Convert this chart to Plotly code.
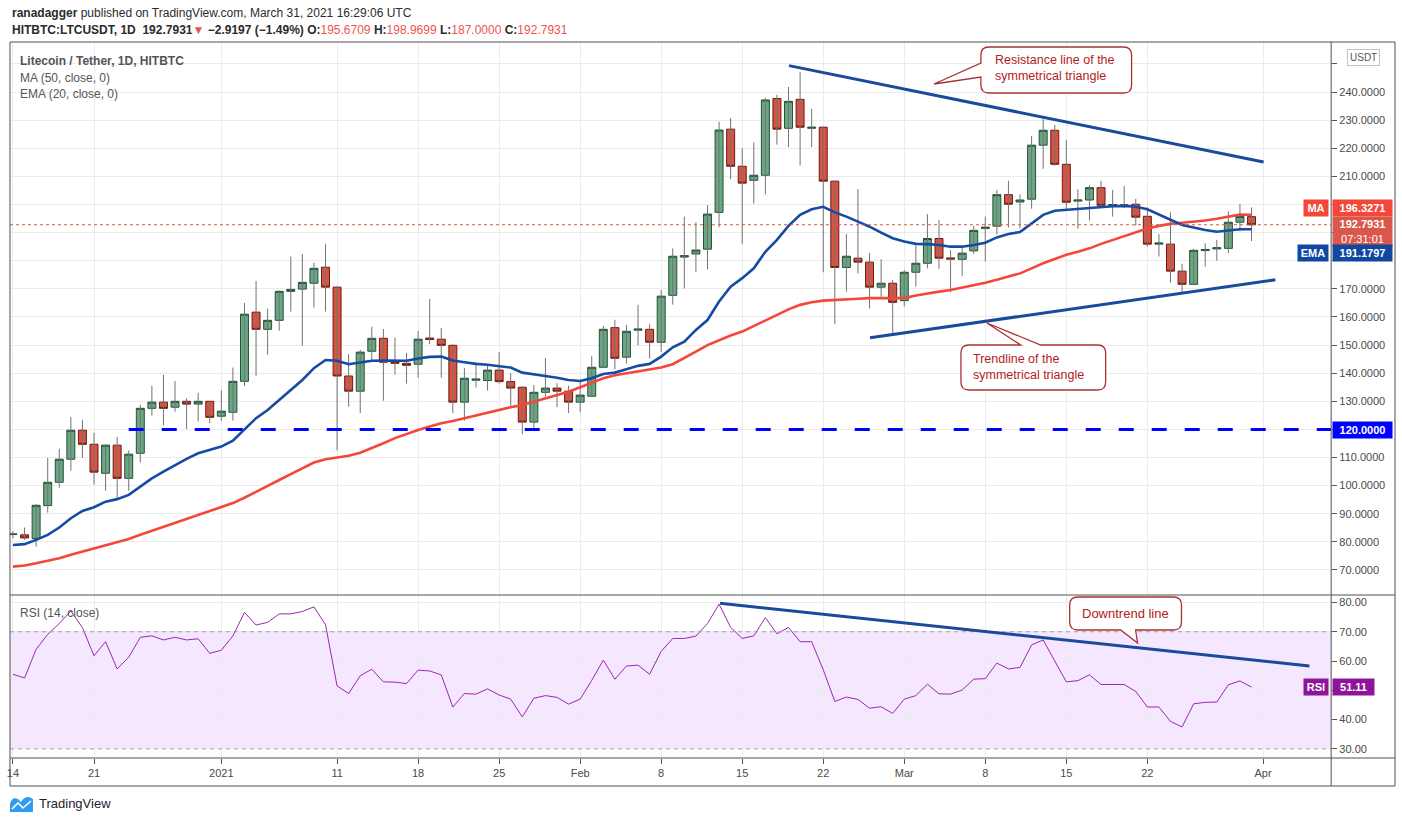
import re
import pandas as pd
import plotly.graph_objects as go

W, H = 1402, 823

# ---- data (LTC/USDT daily, HitBTC) ----
dates = pd.date_range("2020-12-14", "2021-03-31", freq="D")

open_ = [82.6, 82.5, 81.2, 92.9, 101.2, 109.4, 119.7, 114.7, 104.4, 114.4,
         102.6, 111.5, 127.5, 129.7, 127.9, 130.0, 129.0, 130.0, 124.7, 126.1,
         137.1, 161.7, 155.6, 158.8, 169.1, 169.9, 172.0, 177.7, 170.6, 139.0,
         133.6, 147.8, 152.4, 144.1, 143.5, 143.2, 152.5, 152.1, 149.9, 129.7,
         137.5, 137.4, 141.1, 137.0, 135.0, 122.6, 133.2, 134.7, 133.6, 129.7,
         131.8, 142.1, 156.2, 145.7, 155.3, 155.6, 151.0, 167.7, 181.3, 182.4,
         184.1, 197.2, 226.8, 213.6, 208.6, 210.4, 237.7, 227.1, 237.4, 227.1,
         227.5, 208.3, 177.6, 180.9, 179.5, 170.6, 172.0, 165.8, 175.9, 179.1,
         187.9, 181.0, 180.5, 183.5, 191.5, 192.3, 203.5, 200.9, 201.9, 221.1,
         226.4, 214.3, 201.2, 201.6, 206.0, 199.6, 199.9, 200.1, 195.8, 185.9,
         185.9, 176.3, 171.6, 183.6, 184.2, 184.4, 193.7, 195.6709]
high = [83.8, 85.1, 93.5, 109.9, 113.1, 124.4, 123.4, 118.8, 114.7, 117.3,
        112.5, 128.7, 135.5, 139.4, 137.2, 131.1, 133.0, 130.2, 134.0, 142.0,
        165.0, 172.8, 162.9, 169.5, 181.5, 182.4, 179.3, 186.0, 171.0, 146.8,
        148.3, 156.5, 155.7, 152.6, 147.2, 155.0, 166.4, 156.1, 150.3, 141.8,
        143.8, 143.2, 147.5, 140.0, 135.2, 135.8, 145.4, 136.4, 135.6, 137.6,
        146.1, 156.8, 159.0, 157.2, 164.3, 157.4, 169.6, 184.4, 195.7, 193.7,
        199.8, 229.4, 230.8, 220.0, 222.1, 238.0, 239.0, 241.8, 247.1, 234.0,
        227.7, 208.6, 189.5, 205.5, 182.8, 180.5, 173.2, 176.7, 185.4, 196.6,
        194.5, 183.8, 185.0, 192.4, 195.7, 205.2, 208.4, 203.6, 224.4, 230.4,
        228.3, 223.0, 205.4, 206.9, 208.4, 205.2, 206.6, 202.0, 199.0, 189.5,
        197.2, 178.9, 184.2, 186.2, 187.4, 197.5, 200.1, 198.9699]
low = [81.3, 80.7, 78.3, 90.4, 99.3, 105.3, 109.9, 100.4, 98.2, 95.5,
       98.2, 108.2, 124.9, 121.4, 126.3, 120.1, 122.8, 122.2, 123.1, 123.1,
       135.4, 139.1, 146.6, 155.1, 161.9, 149.8, 163.3, 161.9, 112.5, 128.1,
       125.8, 143.9, 130.2, 139.5, 136.3, 138.4, 150.3, 138.4, 125.8, 123.1,
       134.9, 133.8, 136.3, 128.1, 118.3, 120.4, 131.7, 127.9, 125.8, 126.1,
       131.5, 141.8, 141.3, 143.4, 149.9, 145.2, 147.5, 164.4, 170.1, 175.9,
       177.0, 191.9, 209.0, 185.9, 200.3, 203.6, 221.3, 220.4, 213.9, 220.4,
       175.9, 157.4, 169.0, 175.5, 163.0, 167.2, 153.3, 163.7, 170.8, 177.3,
       177.1, 168.8, 174.6, 182.4, 179.7, 189.3, 191.8, 191.5, 198.5, 212.7,
       213.8, 197.8, 191.4, 194.3, 199.5, 195.7, 198.7, 192.5, 185.0, 181.5,
       172.2, 168.4, 171.4, 177.9, 180.0, 182.7, 190.5, 187.0]
close = [82.8, 81.4, 93.0, 101.2, 109.4, 119.7, 114.7, 104.8, 114.4, 102.6,
         111.2, 127.5, 129.7, 127.5, 130.0, 129.0, 130.0, 124.3, 126.5, 137.1,
         161.0, 155.6, 158.8, 169.1, 169.8, 172.3, 177.3, 170.6, 139.0, 133.6,
         147.5, 152.4, 143.9, 143.5, 142.8, 152.1, 152.0, 149.9, 129.7, 138.2,
         137.9, 141.1, 137.0, 134.7, 122.6, 133.2, 134.7, 133.6, 129.7, 132.2,
         142.1, 155.6, 145.3, 154.9, 155.7, 151.0, 167.4, 181.6, 181.8, 183.8,
         196.6, 226.5, 213.6, 207.6, 210.4, 237.2, 226.8, 236.7, 227.5, 227.5,
         208.3, 177.6, 181.6, 179.5, 170.6, 172.0, 165.2, 175.9, 179.1, 187.9,
         180.9, 180.6, 182.7, 190.8, 191.9, 203.5, 200.1, 201.6, 221.1, 226.4,
         214.3, 200.8, 201.6, 206.0, 199.7, 200.0, 199.5, 195.5, 185.9, 186.3,
         176.3, 171.6, 183.7, 184.0, 184.6, 193.7, 195.71, 192.7931]

ma50 = [71.2, 71.6, 72.4, 73.2, 74.2, 75.4, 76.5, 77.8, 78.9, 79.9,
        81.0, 82.5, 83.9, 85.2, 86.6, 88.1, 89.6, 91.0, 92.2, 93.8,
        95.7, 97.9, 99.9, 102.0, 104.1, 106.2, 108.2, 109.4, 110.0, 110.6,
        111.7, 113.3, 115.1, 116.9, 118.4, 119.8, 121.0, 122.2, 123.0, 124.0,
        125.0, 126.1, 126.9, 127.9, 128.7, 129.9, 131.1, 132.3, 133.4, 135.0,
        136.6, 138.2, 139.3, 140.0, 140.6, 141.2, 142.0, 143.2, 145.3, 147.7,
        150.0, 151.8, 153.4, 154.8, 156.8, 158.9, 160.7, 162.7, 164.3, 165.2,
        165.8, 166.1, 166.4, 166.5, 166.7, 166.7, 166.5, 166.7, 167.6, 168.4,
        169.0, 169.6, 170.4, 171.4, 172.2, 173.2, 174.3, 175.5, 177.3, 179.1,
        180.6, 182.1, 183.2, 184.4, 186.0, 187.4, 188.9, 190.3, 191.5, 192.4,
        193.1, 193.5, 193.8, 194.3, 194.9, 195.7, 196.4, 196.3271]
ema20 = [78.9, 79.2, 80.7, 82.5, 85.1, 88.4, 91.0, 92.3, 94.3, 95.2,
         96.7, 99.7, 102.6, 105.0, 107.4, 109.5, 111.5, 112.7, 113.9, 116.0,
         120.1, 124.0, 126.9, 130.5, 134.0, 137.6, 141.8, 144.7, 144.4, 143.2,
         143.8, 144.4, 144.5, 144.4, 144.4, 145.2, 145.8, 145.9, 144.5, 143.9,
         143.3, 143.0, 142.6, 142.0, 140.2, 139.5, 139.0, 138.4, 137.6, 137.2,
         138.2, 139.7, 140.2, 141.4, 142.6, 143.3, 145.9, 149.2, 151.2, 155.4,
         158.9, 165.5, 170.8, 173.8, 177.3, 183.2, 187.4, 192.4, 196.3, 198.3,
         199.2, 197.2, 195.7, 193.9, 192.1, 190.0, 188.0, 186.8, 186.0, 185.9,
         185.6, 185.0, 185.0, 185.6, 186.4, 188.3, 189.5, 190.2, 193.3, 196.3,
         197.8, 198.1, 198.4, 198.9, 199.2, 199.4, 199.5, 199.2, 198.3, 196.5,
         194.5, 192.7, 191.8, 190.9, 190.3, 190.7, 191.2, 191.1797]
rsi14 = [55.5, 54.2, 64.0, 69.1, 72.8, 77.1, 71.4, 61.8, 66.6, 57.3,
         61.3, 68.1, 68.6, 67.2, 68.1, 67.2, 67.6, 62.6, 63.7, 68.6,
         76.6, 72.3, 73.2, 76.1, 76.1, 76.9, 78.5, 72.4, 51.5, 48.9,
         55.0, 57.2, 52.9, 52.8, 52.3, 56.9, 56.6, 55.3, 44.3, 48.9,
         48.7, 50.5, 48.4, 47.0, 40.9, 47.3, 48.2, 47.6, 45.3, 47.0,
         53.4, 60.3, 53.8, 58.3, 58.6, 55.5, 63.3, 67.7, 67.7, 68.5,
         72.8, 79.4, 71.5, 67.7, 68.6, 74.8, 69.3, 71.5, 66.6, 66.6,
         57.0, 46.2, 47.7, 46.9, 43.9, 44.4, 42.1, 47.0, 48.2, 52.1,
         48.8, 48.7, 50.1, 53.8, 54.0, 59.3, 57.3, 57.8, 65.5, 67.2,
         60.0, 52.9, 53.3, 55.3, 52.0, 52.1, 52.0, 49.6, 44.3, 44.3,
         39.4, 37.5, 45.4, 45.9, 46.0, 51.9, 53.2, 51.11]

# drawings on the chart
support_level = 120.0
support_from = "2020-12-24"
resist_dates = ["2021-02-19 01:00", "2021-04-01 01:00"]
resist_prices = [249.4, 215.1]
trend_dates = ["2021-02-26 01:00", "2021-04-02 01:30"]
trend_prices = [152.6, 173.2]
rsi_line_dates = ["2021-02-13 02:00", "2021-04-05 00:00"]
rsi_line_vals = [79.7, 58.3]

tick_dates = ["2020-12-14", "2020-12-21", "2021-01-01", "2021-01-11", "2021-01-18",
              "2021-01-25", "2021-02-01", "2021-02-08", "2021-02-15", "2021-02-22",
              "2021-03-01", "2021-03-08", "2021-03-15", "2021-03-22", "2021-04-01"]
tick_labels = ["14", "21", "2021", "11", "18", "25", "Feb", "8", "15", "22",
               "Mar", "8", "15", "22", "Apr"]
price_ticks = list(range(70, 251, 10))
rsi_ticks = [30, 40, 50, 60, 70, 80]
# labels that sit under the value tags on the scale
price_hidden = {120, 180, 190, 200, 250}
rsi_hidden = {50}

x_range = ["2020-12-13 17:48", "2021-04-06 21:06"]

FONT = "Liberation Sans, Arial, sans-serif"
GRID = "#ebebeb"
FRAME = "#505050"


def px(x):
    return x / W


def py(y):
    return 1 - y / H


def to_paper(path):
    # pixel path -> paper path
    return re.sub(r"(-?[\d.]+),(-?[\d.]+)",
                  lambda m: "%.5f,%.5f" % (px(float(m.group(1))), py(float(m.group(2)))), path)


# wicks drawn separately so they stay grey
wx, wy = [], []
for d, lo, hi in zip(dates, low, high):
    wx += [d, d, None]
    wy += [lo, hi, None]

body_hi = [max(o, c) for o, c in zip(open_, close)]
body_lo = [min(o, c) for o, c in zip(open_, close)]

fig = go.Figure()

fig.add_trace(go.Scatter(x=wx, y=wy, mode="lines", line=dict(color="#737375", width=1),
                         hoverinfo="skip", showlegend=False, xaxis="x", yaxis="y"))
fig.add_trace(go.Candlestick(
    x=dates, open=open_, high=body_hi, low=body_lo, close=close,
    increasing=dict(fillcolor="#6BA583", line=dict(color="#225437", width=1)),
    decreasing=dict(fillcolor="#D75442", line=dict(color="#6F1A12", width=1)),
    whiskerwidth=0, showlegend=False, xaxis="x", yaxis="y"))
fig.add_trace(go.Scatter(x=dates, y=ma50, mode="lines", line=dict(color="#F4473B", width=2.6),
                         showlegend=False, xaxis="x", yaxis="y"))
fig.add_trace(go.Scatter(x=dates, y=ema20, mode="lines", line=dict(color="#154BA1", width=2.6),
                         showlegend=False, xaxis="x", yaxis="y"))
fig.add_trace(go.Scatter(x=dates, y=rsi14, mode="lines", line=dict(color="#9C27B0", width=1),
                         showlegend=False, xaxis="x2", yaxis="y2"))

shapes = []
# rsi band + levels
shapes.append(dict(type="rect", xref="paper", yref="y2", x0=px(7), x1=px(1331), y0=30, y1=70,
                   fillcolor="rgba(156,39,255,0.11)", line=dict(width=0), layer="between"))
for lvl in (30, 70):
    shapes.append(dict(type="line", xref="paper", yref="y2", x0=px(7), x1=px(1331), y0=lvl, y1=lvl,
                       line=dict(color="#a59fae", width=1, dash="4px,4px")))
# last price dotted line
shapes.append(dict(type="line", xref="paper", yref="y", x0=px(7), x1=px(1331),
                   y0=close[-1], y1=close[-1], line=dict(color="#D75442", width=1, dash="dot")))
# 120 support
shapes.append(dict(type="line", xref="x", yref="y", x0=support_from, x1=x_range[1],
                   y0=support_level, y1=support_level,
                   line=dict(color="#0000FF", width=3, dash="15px,18px")))
# triangle
shapes.append(dict(type="line", xref="x", yref="y", x0=resist_dates[0], x1=resist_dates[1],
                   y0=resist_prices[0], y1=resist_prices[1], line=dict(color="#1B4A9C", width=3)))
shapes.append(dict(type="line", xref="x", yref="y", x0=trend_dates[0], x1=trend_dates[1],
                   y0=trend_prices[0], y1=trend_prices[1], line=dict(color="#1B4A9C", width=3)))
shapes.append(dict(type="line", xref="x2", yref="y2", x0=rsi_line_dates[0], x1=rsi_line_dates[1],
                   y0=rsi_line_vals[0], y1=rsi_line_vals[1], line=dict(color="#1B4A9C", width=3)))

# frame
shapes.append(dict(type="rect", xref="paper", yref="paper", x0=px(7), x1=px(1395), y0=py(786), y1=py(42),
                   line=dict(color=FRAME, width=1)))
for yy in (595, 758):
    shapes.append(dict(type="line", xref="paper", yref="paper", x0=px(7), x1=px(1395), y0=py(yy), y1=py(yy),
                       line=dict(color=FRAME, width=1)))
shapes.append(dict(type="line", xref="paper", yref="paper", x0=px(1331), x1=px(1331), y0=py(786), y1=py(42),
                   line=dict(color=FRAME, width=1)))

# callout bubbles
bubbles = [
    "M 988,47 L 1123,47 Q 1131,47 1131,55 L 1131,85 Q 1131,93 1123,93 L 988,93 Q 980,93 980,85 "
    "L 980,77 L 933,84 L 980,63 L 980,55 Q 980,47 988,47 Z",
    "M 968,345 L 1020,345 L 986,323 L 1040,345 L 1097,345 Q 1105,345 1105,353 L 1105,382 "
    "Q 1105,390 1097,390 L 968,390 Q 960,390 960,382 L 960,353 Q 960,345 968,345 Z",
    "M 1077,597 L 1173,597 Q 1181,597 1181,605 L 1181,622 Q 1181,630 1173,630 L 1135,630 "
    "L 1137,643 L 1120,630 L 1077,630 Q 1069,630 1069,622 L 1069,605 Q 1069,597 1077,597 Z",
]
for b in bubbles:
    shapes.append(dict(type="path", xref="paper", yref="paper", path=to_paper(b),
                       fillcolor="white", line=dict(color="#A83232", width=1.3)))

# TradingView logo
shapes.append(dict(type="path", xref="paper", yref="paper",
                   path=to_paper("M 7,812 L 7,804 Q 9,796 15,799 L 18,802 Q 23,794 30,799 L 30,812 Z"),
                   fillcolor="#2E9BF0", line=dict(width=0)))
shapes.append(dict(type="path", xref="paper", yref="paper",
                   path=to_paper("M 9,809 L 15,803 L 20,808 L 28,801"),
                   line=dict(color="white", width=1.6)))

ann = []


def text(x, y, s, size=12, color="#4a4a4a", anchor="left", **kw):
    ann.append(dict(xref="paper", yref="paper", x=px(x), y=py(y), text=s, showarrow=False,
                    xanchor=anchor, yanchor="middle", font=dict(family=FONT, size=size, color=color), **kw))


RED = "#EF5350"
text(7, 13, "<b>ranadagger</b> published on TradingView.com, March 31, 2021 16:29:06 UTC", 12, "#2b2b2b")
text(7, 30, "<b>HITBTC:LTCUSDT, 1D  192.7931</b><span style='color:%s'>▼</span> "
            "<b>−2.9197 (−1.49%%) O:</b><span style='color:%s'>195.6709</span> "
            "<b>H:</b><span style='color:%s'>198.9699</span> "
            "<b>L:</b><span style='color:%s'>187.0000</span> "
            "<b>C:</b><span style='color:%s'>192.7931</span>" % (RED, RED, RED, RED, RED), 12, "#2b2b2b")
text(15, 61, "<b>Litecoin / Tether, 1D, HITBTC</b>", 12, "#555555")
text(15, 78, "MA (50, close, 0)", 12, "#555555")
text(15, 94, "EMA (20, close, 0)", 12, "#555555")
text(15, 613, "RSI (14, close)", 12, "#555555")
text(34, 803, "TradingView", 13, "#1e222d")

CALL = "#B22222"
text(992, 68.5, "Resistance line of the<br>symmetrical triangle", 12.5, CALL, align="left")
text(970, 367, "Trendline of the<br>symmetrical triangle", 12.5, CALL, align="left")
text(1079, 613, "Downtrend line", 13, CALL)

# axis tags
text(1363, 58, "USDT", 10, "#555555", anchor="center", bgcolor="white", bordercolor="#c4c4c4",
     borderwidth=1, borderpad=2)


def tag(x, y, s, bg, w, h, anchor="left", size=11):
    ann.append(dict(xref="paper", yref="paper", x=px(x), y=py(y), text=s, showarrow=False,
                    xanchor=anchor, yanchor="middle", bgcolor=bg, width=w, height=h, borderpad=0,
                    align="center", font=dict(family=FONT, size=size, color="white")))


tag(1329, 208, "<b>MA</b>", "#F4473B", 24, 16, anchor="right")
tag(1332, 208, "<b>%.4f</b>" % ma50[-1], "#F4473B", 59, 16)
tag(1332, 231, "<b>%.4f</b><br>07:31:01" % close[-1], "#D9574B", 59, 29)
tag(1329, 253, "<b>EMA</b>", "#1047A0", 30, 16, anchor="right")
tag(1332, 253, "<b>%.4f</b>" % ema20[-1], "#1047A0", 59, 16)
tag(1332, 429.5, "<b>%.4f</b>" % support_level, "#0000FF", 59, 16)
tag(1329, 687, "<b>RSI</b>", "#8E1599", 24, 16, anchor="right")
tag(1332, 687, "<b>%.2f</b>" % rsi14[-1], "#8E1599", 41, 16)

price_text = ["" if v in price_hidden else "%.4f" % v for v in price_ticks]
rsi_text = ["" if v in rsi_hidden else "%.2f" % v for v in rsi_ticks]

axis_font = dict(family=FONT, size=11, color="#4a4a4a")
fig.update_layout(
    width=W, height=H, margin=dict(l=0, r=0, t=0, b=0),
    paper_bgcolor="white", plot_bgcolor="white",
    showlegend=False, hovermode=False,
    boxgap=0.17, boxgroupgap=0.17,
    shapes=shapes, annotations=ann,
    xaxis=dict(domain=[px(7), px(1331)], anchor="y", type="date", range=x_range,
               tickvals=tick_dates, showticklabels=False, ticks="", showgrid=True,
               gridcolor=GRID, zeroline=False, showline=False,
               rangeslider=dict(visible=False)),
    xaxis2=dict(domain=[px(7), px(1331)], anchor="y2", type="date", range=x_range,
                tickvals=tick_dates, ticktext=tick_labels, ticks="outside", ticklen=5,
                tickcolor="#555555", tickfont=axis_font, showgrid=True, gridcolor=GRID,
                zeroline=False, showline=False),
    yaxis=dict(domain=[py(595), py(42)], anchor="x", range=[61.1, 257.8], side="right",
               tickvals=price_ticks, ticktext=price_text, ticks="outside", ticklen=5,
               tickcolor="#555555", tickfont=axis_font, showgrid=True, gridcolor=GRID,
               zeroline=False, showline=False),
    yaxis2=dict(domain=[py(758), py(596)], anchor="x2", range=[26.9, 82.2], side="right",
                tickvals=rsi_ticks, ticktext=rsi_text, ticks="outside", ticklen=5,
                tickcolor="#555555", tickfont=axis_font, showgrid=True, gridcolor=GRID,
                zeroline=False, showline=False),
)

fig.write_html("out.html", config={"displayModeBar": False},
               post_script="document.body.style.margin='0';")
